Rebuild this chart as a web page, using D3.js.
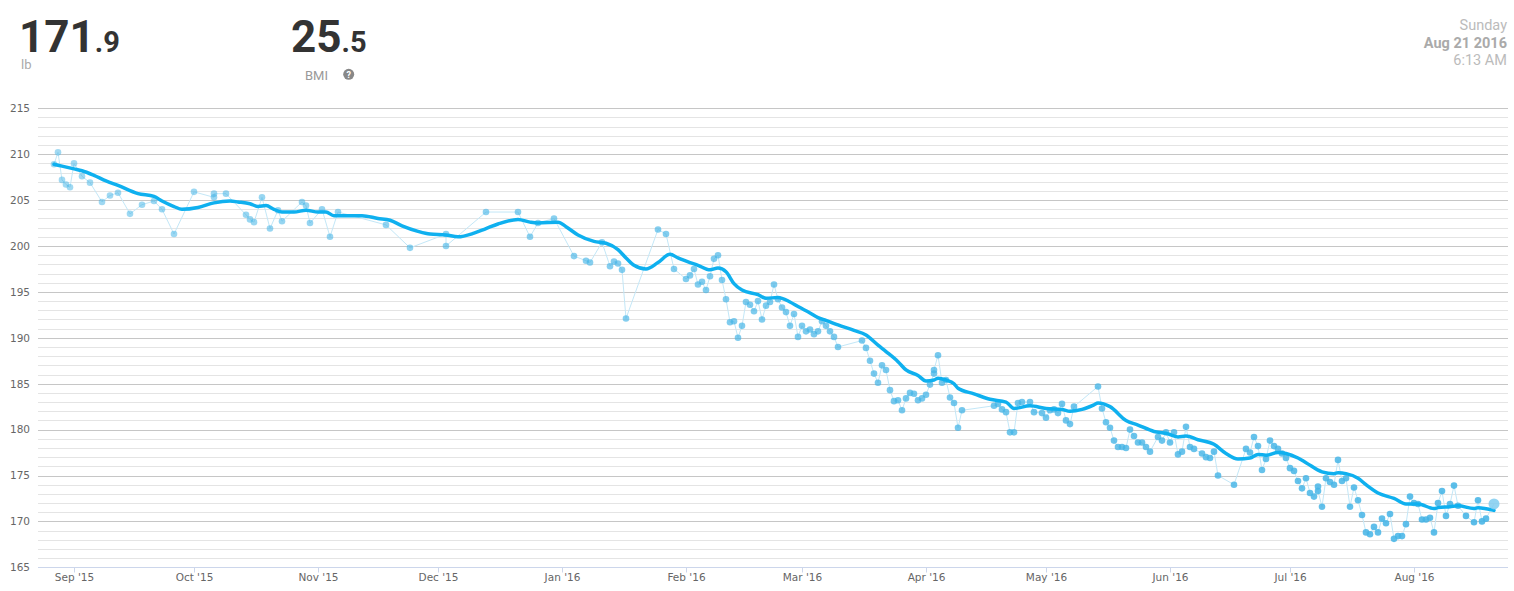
<!DOCTYPE html>
<html>
<head>
<meta charset="utf-8">
<script src="https://cdn.jsdelivr.net/npm/d3@7"></script>
<style>
  body { margin: 0; background: #fff; }
  svg { display: block; font-family: Roboto, "Noto Sans", sans-serif; }
  .axis text { font-family: "DejaVu Sans", Verdana, sans-serif; font-size: 10.5px; fill: #666; }
  .axis .domain { display: none; }
</style>
</head>
<body>
<div id="chart"></div>
<script>
const w = 1514;
const h = 591;
const plotLeft = 38;
const plotRight = 1508;
const plotTop = 108.3;
const plotBottom = 567.3;

// header values
const weightInt = "171";
const weightDec = ".9";
const weightUnit = "lb";
const bmiInt = "25";
const bmiDec = ".5";
const dayLabel = "Sunday";
const dateLabel = "Aug 21 2016";
const timeLabel = "6:13 AM";

// weigh-ins
const dates = [
  "2015-08-27","2015-08-28","2015-08-29","2015-08-30","2015-08-31","2015-09-01","2015-09-03","2015-09-05",
  "2015-09-08","2015-09-10","2015-09-12","2015-09-15","2015-09-18","2015-09-21","2015-09-23","2015-09-26",
  "2015-10-01","2015-10-06","2015-10-06","2015-10-09","2015-10-14","2015-10-15","2015-10-16","2015-10-18",
  "2015-10-20","2015-10-22","2015-10-23","2015-10-28","2015-10-29","2015-10-30","2015-11-02","2015-11-04",
  "2015-11-06","2015-11-18","2015-11-24","2015-12-03","2015-12-03","2015-12-13","2015-12-21","2015-12-24",
  "2015-12-26","2015-12-30",
  "2016-01-04","2016-01-07","2016-01-08","2016-01-11","2016-01-13","2016-01-14","2016-01-15","2016-01-16",
  "2016-01-17","2016-01-25","2016-01-27","2016-01-29",
  "2016-02-01","2016-02-02","2016-02-03","2016-02-04","2016-02-05","2016-02-06","2016-02-07","2016-02-08",
  "2016-02-09","2016-02-10","2016-02-11","2016-02-12","2016-02-13","2016-02-14","2016-02-15","2016-02-16",
  "2016-02-17","2016-02-18","2016-02-19","2016-02-20","2016-02-21","2016-02-22","2016-02-23","2016-02-24",
  "2016-02-25","2016-02-26","2016-02-27","2016-02-28","2016-02-29",
  "2016-03-01","2016-03-02","2016-03-03","2016-03-04","2016-03-05","2016-03-06","2016-03-07","2016-03-08",
  "2016-03-09","2016-03-10",
  "2016-03-16","2016-03-17","2016-03-18","2016-03-19","2016-03-20","2016-03-21","2016-03-22","2016-03-23",
  "2016-03-24","2016-03-25","2016-03-26","2016-03-27","2016-03-28","2016-03-29","2016-03-30","2016-03-31",
  "2016-04-01","2016-04-02","2016-04-03","2016-04-03","2016-04-04","2016-04-05","2016-04-06","2016-04-07",
  "2016-04-08","2016-04-09","2016-04-10",
  "2016-04-18","2016-04-19","2016-04-20","2016-04-21","2016-04-22","2016-04-23","2016-04-24","2016-04-25",
  "2016-04-27","2016-04-28","2016-04-30",
  "2016-05-01","2016-05-02","2016-05-03","2016-05-04","2016-05-05","2016-05-06","2016-05-07","2016-05-08",
  "2016-05-14","2016-05-15","2016-05-16","2016-05-17","2016-05-18","2016-05-19","2016-05-20","2016-05-21",
  "2016-05-22","2016-05-23","2016-05-24","2016-05-25","2016-05-26","2016-05-27",
  "2016-05-29","2016-05-30","2016-05-31","2016-06-01","2016-06-02","2016-06-03","2016-06-04","2016-06-05",
  "2016-06-06","2016-06-07",
  "2016-06-09","2016-06-10","2016-06-11","2016-06-12","2016-06-13","2016-06-17",
  "2016-06-20","2016-06-21","2016-06-22","2016-06-23","2016-06-24","2016-06-25","2016-06-26","2016-06-27",
  "2016-06-28","2016-06-29","2016-06-30",
  "2016-07-01","2016-07-02","2016-07-03","2016-07-04","2016-07-05","2016-07-06","2016-07-07","2016-07-08",
  "2016-07-08","2016-07-09","2016-07-10","2016-07-11","2016-07-12","2016-07-13","2016-07-14","2016-07-15",
  "2016-07-16","2016-07-17","2016-07-18","2016-07-19","2016-07-20","2016-07-21","2016-07-22","2016-07-23",
  "2016-07-24","2016-07-25","2016-07-26","2016-07-27","2016-07-28","2016-07-29","2016-07-30","2016-07-31",
  "2016-08-01","2016-08-02","2016-08-03","2016-08-04","2016-08-05","2016-08-06","2016-08-07","2016-08-08",
  "2016-08-09","2016-08-10","2016-08-11","2016-08-12","2016-08-14","2016-08-16","2016-08-17","2016-08-18",
  "2016-08-19","2016-08-21"
];
const weights = [
  208.9,210.2,207.2,206.7,206.4,209.0,207.6,206.9,
  204.8,205.5,205.8,203.5,204.5,204.9,204.0,201.3,
  205.9,205.3,205.7,205.7,203.4,202.9,202.6,205.3,
  201.9,203.9,202.7,204.8,204.4,202.5,204.0,201.0,
  203.7,202.3,199.8,201.3,200.0,203.7,203.7,201.0,
  202.5,203.0,
  198.9,198.4,198.2,200.4,197.8,198.3,198.1,197.4,
  192.1,201.8,201.3,197.5,
  196.4,196.8,197.5,195.8,196.1,195.2,196.7,198.6,
  199.0,196.3,194.2,191.7,191.8,190.0,191.3,193.9,
  193.6,192.9,194.0,192.0,193.5,193.9,195.8,194.2,
  193.3,192.8,191.3,192.6,190.1,
  191.3,190.7,190.9,190.4,190.7,191.8,191.3,190.7,
  190.1,189.0,
  189.7,188.9,187.5,186.1,185.1,187.0,186.5,184.3,
  183.1,183.2,182.1,183.4,184.0,183.9,183.2,183.4,
  183.8,184.9,186.1,186.5,188.1,185.1,185.4,183.5,
  182.9,180.2,182.1,
  182.6,182.8,182.2,181.9,179.7,179.7,182.9,183.0,
  183.0,181.9,181.8,
  181.3,182.1,182.2,181.8,182.8,181.0,180.6,182.5,
  184.7,182.3,180.8,180.2,178.8,178.1,178.1,178.0,
  180.0,179.3,178.6,178.6,178.1,177.6,
  179.2,178.8,179.7,178.6,179.7,177.3,177.6,180.3,
  178.1,177.9,
  177.4,177.0,176.9,177.6,175.0,174.0,
  177.9,177.5,179.2,178.2,175.6,176.8,178.8,178.2,
  177.9,177.4,176.9,
  175.8,175.5,174.4,173.6,174.7,173.1,172.7,173.8,
  173.3,171.6,174.7,174.3,174.0,176.7,174.4,174.7,
  171.6,173.7,172.3,170.7,168.8,168.6,169.4,168.8,
  170.3,169.8,170.8,168.1,168.4,168.4,169.7,172.7,
  172.0,171.9,170.2,170.2,170.4,168.8,172.0,173.3,
  170.6,171.9,173.9,171.7,170.6,169.9,172.3,170.0,
  170.3,171.9
];

// smoothed trend line
const trendDates = [
  "2015-08-27","2015-08-29","2015-09-01","2015-09-03","2015-09-06","2015-09-09","2015-09-12","2015-09-17",
  "2015-09-21","2015-09-23","2015-09-26","2015-09-28","2015-10-02","2015-10-06","2015-10-10","2015-10-12",
  "2015-10-15","2015-10-17","2015-10-19","2015-10-21","2015-10-23","2015-10-26","2015-10-29","2015-11-01",
  "2015-11-03","2015-11-05","2015-11-08","2015-11-12","2015-11-16","2015-11-19","2015-11-22","2015-11-26",
  "2015-11-29","2015-12-03","2015-12-06","2015-12-10","2015-12-13","2015-12-16","2015-12-21","2015-12-24",
  "2015-12-26","2015-12-31","2016-01-02","2016-01-05","2016-01-09","2016-01-12","2016-01-15","2016-01-17",
  "2016-01-19","2016-01-22","2016-01-25","2016-01-28","2016-01-30","2016-02-02","2016-02-04","2016-02-07",
  "2016-02-09","2016-02-11","2016-02-13","2016-02-15","2016-02-19","2016-02-21","2016-02-24","2016-02-27",
  "2016-02-29","2016-03-03","2016-03-05","2016-03-07","2016-03-10","2016-03-14","2016-03-17","2016-03-20",
  "2016-03-22","2016-03-25","2016-03-27","2016-03-30","2016-04-01","2016-04-03","2016-04-04","2016-04-06",
  "2016-04-08","2016-04-09","2016-04-13","2016-04-17","2016-04-21","2016-04-23","2016-04-27","2016-05-01",
  "2016-05-05","2016-05-07","2016-05-10","2016-05-13","2016-05-14","2016-05-17","2016-05-21","2016-05-24",
  "2016-05-28","2016-05-31","2016-06-03","2016-06-05","2016-06-08","2016-06-12","2016-06-15","2016-06-18",
  "2016-06-21","2016-06-23","2016-06-25","2016-06-28","2016-06-30","2016-07-03","2016-07-05","2016-07-09",
  "2016-07-12","2016-07-13","2016-07-15","2016-07-18","2016-07-20","2016-07-23","2016-07-27","2016-07-30",
  "2016-08-02","2016-08-06","2016-08-07","2016-08-10","2016-08-12","2016-08-16","2016-08-17","2016-08-21"
];
const trendWeights = [
  208.9,208.7,208.4,208.2,207.7,207.1,206.6,205.7,
  205.4,204.9,204.3,204.0,204.2,204.7,204.9,204.8,
  204.6,204.3,204.4,204.0,203.7,203.7,203.9,203.7,
  203.7,203.3,203.3,203.3,203.0,202.8,202.2,201.6,
  201.3,201.2,201.0,201.4,201.9,202.4,202.9,202.6,
  202.5,202.6,202.1,201.2,200.5,200.3,199.6,198.7,
  197.9,197.5,198.2,199.1,198.7,198.2,197.9,197.4,
  197.6,197.2,195.9,195.2,194.7,194.3,194.4,193.9,
  193.4,192.7,192.2,191.9,191.4,190.8,190.3,189.2,
  188.5,187.4,186.5,185.9,185.3,185.4,185.6,185.4,
  185.0,184.5,183.9,183.3,183.0,182.3,182.6,182.3,
  182.2,182.0,182.2,182.7,182.9,182.5,181.0,180.5,
  179.8,179.6,179.2,179.3,178.9,178.4,177.4,176.8,
  176.9,177.3,177.2,177.5,177.4,176.9,176.4,175.4,
  175.2,175.3,175.2,174.7,174.0,173.1,172.5,171.9,
  171.9,171.4,171.5,171.6,171.7,171.4,171.5,171.2
];

const yMin = 165;
const yMax = 215;
const yLabelTicks = [165, 170, 175, 180, 185, 190, 195, 200, 205, 210, 215];

const parse = d3.timeParse("%Y-%m-%d");
const points = dates.map((d, i) => ({ date: parse(d), value: weights[i] }));
const trend = trendDates.map((d, i) => ({ date: parse(d), value: trendWeights[i] }));

const svg = d3.select("#chart")
  .append("svg")
  .attr("width", w)
  .attr("height", h);

// header
function bigNumber(x, whole, frac) {
  const t = svg.append("text")
    .attr("x", x)
    .attr("y", 52)
    .style("font-size", "44px")
    .style("font-weight", 700)
    .style("fill", "#333");
  t.append("tspan").text(whole);
  t.append("tspan").style("font-size", "29px").text(frac);
}
bigNumber(19, weightInt, weightDec);
bigNumber(291, bmiInt, bmiDec);

svg.append("text")
  .attr("x", 21)
  .attr("y", 69)
  .style("font-size", "13px")
  .style("fill", "#aaa")
  .text(weightUnit);

svg.append("text")
  .attr("x", 305)
  .attr("y", 79.5)
  .style("font-size", "13px")
  .style("fill", "#999")
  .text("BMI");

svg.append("circle")
  .attr("cx", 348.7)
  .attr("cy", 74.3)
  .attr("r", 5.5)
  .style("fill", "#888");
svg.append("text")
  .attr("x", 348.7)
  .attr("y", 77.6)
  .attr("text-anchor", "middle")
  .style("font-size", "9px")
  .style("font-weight", 700)
  .style("fill", "#fff")
  .text("?");

const stamp = [
  { t: dayLabel, y: 30, weight: 400, color: "#bbb" },
  { t: dateLabel, y: 47.5, weight: 700, color: "#aaa" },
  { t: timeLabel, y: 65, weight: 400, color: "#bbb" }
];
svg.selectAll(".stamp")
  .data(stamp)
  .enter()
  .append("text")
  .attr("class", "stamp")
  .attr("x", 1507)
  .attr("y", d => d.y)
  .attr("text-anchor", "end")
  .style("font-size", "14.5px")
  .style("font-weight", d => d.weight)
  .style("fill", d => d.color)
  .text(d => d.t);

// scales
const xScale = d3.scaleTime()
  .domain([new Date(2015, 7, 23), new Date(2016, 7, 24, 12)])
  .range([plotLeft, plotRight]);

const yScale = d3.scaleLinear()
  .domain([yMin, yMax])
  .range([plotBottom, plotTop]);

// grid: minor every unit, major every 5
const gridTicks = d3.range(yMin + 1, yMax + 1, 1);
svg.append("g")
  .attr("class", "grid")
  .selectAll("line")
  .data(gridTicks)
  .enter()
  .append("line")
  .attr("x1", plotLeft)
  .attr("x2", plotRight)
  .attr("y1", d => Math.round(yScale(d)) + 0.5)
  .attr("y2", d => Math.round(yScale(d)) + 0.5)
  .style("stroke", d => (d % 5 === 0 ? "#c6c6c6" : "#e4e4e4"))
  .style("stroke-width", 1);

// y axis labels
const yAxis = d3.axisLeft(yScale)
  .tickValues(yLabelTicks)
  .tickSize(0)
  .tickPadding(8)
  .tickFormat(d3.format("d"));
svg.append("g")
  .attr("class", "axis")
  .attr("transform", `translate(${plotLeft}, 0)`)
  .call(yAxis);

// x axis
const xAxis = d3.axisBottom(xScale)
  .ticks(d3.timeMonth.every(1))
  .tickSize(5)
  .tickPadding(1)
  .tickFormat(d3.timeFormat("%b '%y"));
const xg = svg.append("g")
  .attr("class", "axis")
  .attr("transform", `translate(0, ${Math.round(plotBottom) + 0.5})`)
  .call(xAxis);
xg.selectAll(".tick line").style("stroke", "#ccd6eb");
xg.append("line")
  .attr("x1", plotLeft)
  .attr("x2", plotRight)
  .style("stroke", "#ccd6eb");

// thin line joining the weigh-ins
const thin = d3.line()
  .x(d => xScale(d.date))
  .y(d => yScale(d.value));
svg.append("path")
  .datum(points)
  .attr("d", thin)
  .style("fill", "none")
  .style("stroke", "#c3e7f7")
  .style("stroke-width", 1);

// points, older ones paler
const fade = d3.scaleTime()
  .domain([points[0].date, points[points.length - 1].date])
  .range([0.5, 0.88]);
svg.append("g")
  .selectAll("circle")
  .data(points.slice(0, -1))
  .enter()
  .append("circle")
  .attr("cx", d => xScale(d.date))
  .attr("cy", d => yScale(d.value))
  .attr("r", 3.3)
  .style("fill", "#44b4e6")
  .style("fill-opacity", d => fade(d.date));

// trend
const smooth = d3.line()
  .curve(d3.curveMonotoneX)
  .x(d => xScale(d.date))
  .y(d => yScale(d.value));
svg.append("path")
  .datum(trend)
  .attr("d", smooth)
  .style("fill", "none")
  .style("stroke", "#0fb0ef")
  .style("stroke-width", 3.5)
  .style("stroke-linejoin", "round")
  .style("stroke-linecap", "round");

// latest reading
const last = points[points.length - 1];
svg.append("circle")
  .attr("cx", xScale(last.date))
  .attr("cy", yScale(last.value))
  .attr("r", 5.5)
  .style("fill", "#80cdf0")
  .style("fill-opacity", 0.85);
</script>
</body>
</html>
